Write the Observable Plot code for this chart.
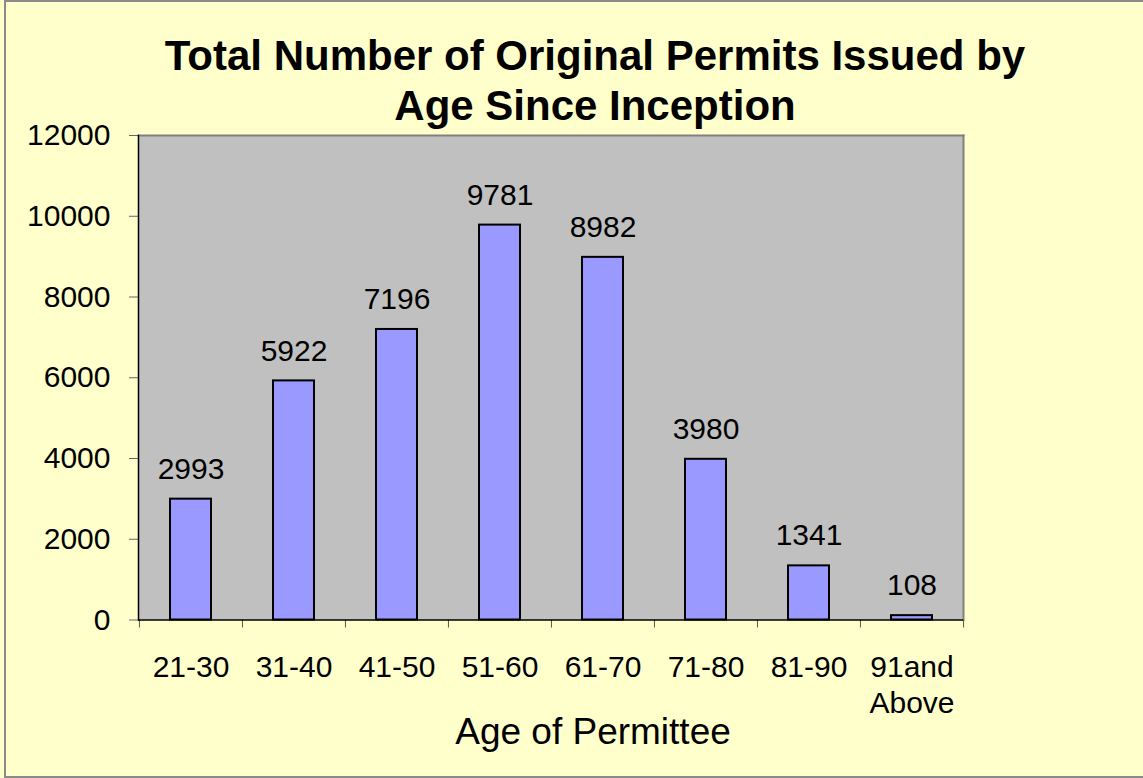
<!DOCTYPE html>
<html>
<head>
<meta charset="utf-8">
<script src="https://cdn.jsdelivr.net/npm/d3@7"></script>
<script src="https://cdn.jsdelivr.net/npm/@observablehq/plot@0.6"></script>
<style>
  html, body { margin: 0; padding: 0; background: #FFFFCC; overflow: hidden; }
  body { width: 1143px; height: 778px; position: relative; font-family: "Liberation Sans", Arial, sans-serif; }
  #border { position: absolute; left: 4px; top: 0px; width: 1145px; height: 774px; border: 2px solid #8a8a8a; box-sizing: content-box; }
  #title { position: absolute; left: 95px; width: 1000px; top: 31px; text-align: center; font-weight: bold; font-size: 42px; line-height: 50px; color: #000; }
  #chart { position: absolute; left: 0; top: 100px; }
  #xlabel { position: absolute; left: 393px; width: 400px; top: 712px; text-align: center; font-size: 37px; line-height: 40px; color: #000; }
</style>
</head>
<body>
<div id="border"></div>
<div id="title">Total Number of Original Permits Issued by<br>Age Since Inception</div>
<div id="chart"></div>
<div id="xlabel">Age of Permittee</div>
<script>
const categories = ["21-30", "31-40", "41-50", "51-60", "61-70", "71-80", "81-90", "91and\nAbove"];
const values = [2993, 5922, 7196, 9781, 8982, 3980, 1341, 108];
const yTicks = [0, 2000, 4000, 6000, 8000, 10000, 12000];

const data = categories.map((c, i) => ({age: c, count: values[i]}));

const W = 1143, H = 620;
const mL = 138, mR = 180, mT = 35, mB = 100.5;
const step = (W - mL - mR) / categories.length;

const chart = Plot.plot({
  width: W,
  height: H,
  marginLeft: mL,
  marginRight: mR,
  marginTop: mT,
  marginBottom: mB,
  style: {fontFamily: "'Liberation Sans', Arial, sans-serif", fontSize: "30px", background: "transparent", overflow: "visible", color: "#000"},
  x: {domain: categories, padding: 0},
  y: {domain: [0, 12000]},
  marks: [
    Plot.frame({fill: "#C0C0C0", stroke: null}),
    Plot.frame({anchor: "top", stroke: "#808080", strokeWidth: 2}),
    Plot.frame({anchor: "right", stroke: "#808080", strokeWidth: 2}),
    Plot.barY(data, {x: "age", y: "count", fill: "#9999FF", stroke: "#000", strokeWidth: 2, insetLeft: 31, insetRight: 31}),
    Plot.text(data, {x: "age", y: "count", text: d => String(d.count), dy: -30, fontSize: 30, fill: "#000"}),
    Plot.axisY({ticks: yTicks, tickSize: 9, tickPadding: 19, fontSize: 30, stroke: "#666", fill: "#000", label: null, tickFormat: d => String(d)}),
    Plot.axisX({ticks: categories, tickSize: 8, tickFormat: () => "", dx: -step / 2, stroke: "#555", label: null}),
    Plot.axisX({ticks: [categories[categories.length - 1]], tickSize: 8, tickFormat: () => "", dx: step / 2, stroke: "#555", label: null}),
    Plot.axisX({ticks: categories, tickSize: 0, tickPadding: 31, fontSize: 30, lineHeight: 1.2, fill: "#000", label: null}),
    Plot.ruleY([0], {stroke: "#000", strokeWidth: 1.5}),
    Plot.frame({anchor: "left", stroke: "#000", strokeWidth: 1.5})
  ]
});
document.getElementById("chart").appendChild(chart);
</script>
</body>
</html>
